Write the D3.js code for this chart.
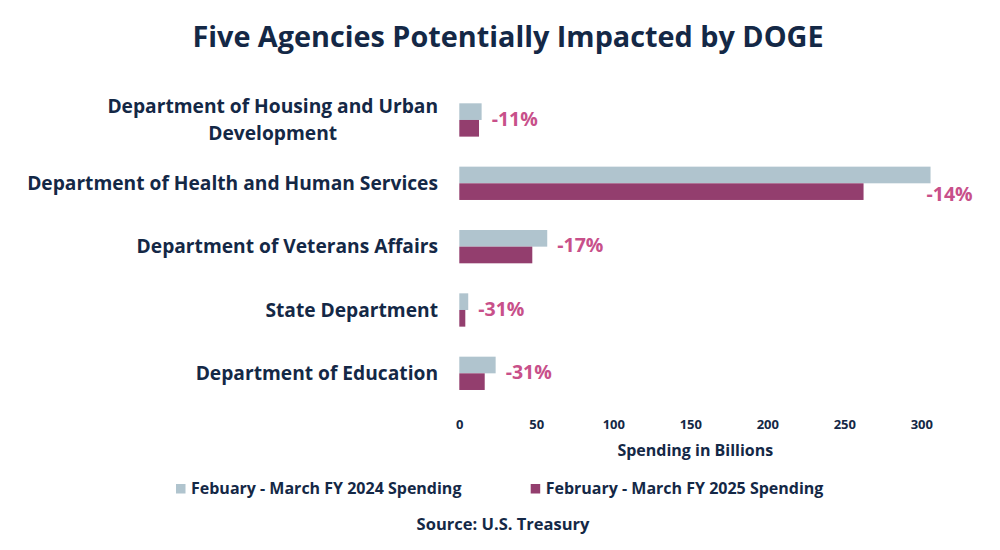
<!DOCTYPE html>
<html>
<head>
<meta charset="utf-8">
<script src="https://cdn.jsdelivr.net/npm/d3@7"></script>
<style>
  body { margin: 0; background: #fff; }
  svg text { font-family: "Open Sans", "Lato", sans-serif; font-weight: 700; }
</style>
</head>
<body>
<div id="chartContainer"></div>
<script>
const width = 1000;
const height = 550;

const navy = "#142846";
const grayBar = "#b0c4ce";
const purpleBar = "#933e6e";
const pink = "#c8508a";

const categories = [
    "Department of Housing and Urban\nDevelopment",
    "Department of Health and Human Services",
    "Department of Veterans Affairs",
    "State Department",
    "Department of Education"
];
const spending2024 = [14.5, 306, 57.1, 5.8, 23.6];
const spending2025 = [12.8, 262.5, 47.4, 3.9, 16.5];
const changeLabels = ["-11%", "-14%", "-17%", "-31%", "-31%"];
const xTicks = [0, 50, 100, 150, 200, 250, 300];
const seriesNames = ["Febuary - March FY 2024 Spending", "February - March FY 2025 Spending"];

var svg = d3.select("#chartContainer").append("svg")
    .attr("width", width).attr("height", height);

// Title
svg.append("text")
    .attr("x", 508).attr("y", 47)
    .attr("text-anchor", "middle")
    .style("font-size", "28.8px")
    .style("fill", navy)
    .text("Five Agencies Potentially Impacted by DOGE");

var xScale = d3.scaleLinear().domain([0, 300]).range([459.3, 921.3]);
var yScale = d3.scaleBand().domain(categories).range([88.3, 405]).paddingInner(0.474).paddingOuter(0.237);
var barH = yScale.bandwidth() / 2;

// Bars
var rows = categories.map((c, i) => ({ cat: c, a: spending2024[i], b: spending2025[i], label: changeLabels[i] }));

svg.append("g").selectAll("rect")
    .data(rows).enter().append("rect")
    .attr("x", xScale(0))
    .attr("y", d => yScale(d.cat))
    .attr("width", d => xScale(d.a) - xScale(0))
    .attr("height", barH)
    .style("fill", grayBar);

svg.append("g").selectAll("rect")
    .data(rows).enter().append("rect")
    .attr("x", xScale(0))
    .attr("y", d => yScale(d.cat) + barH)
    .attr("width", d => xScale(d.b) - xScale(0))
    .attr("height", barH)
    .style("fill", purpleBar);

// Percent change labels; the long bar gets its label tucked under the end
var tooLong = d => xScale(d.a) + 60 > width - 20;
svg.append("g").selectAll("text")
    .data(rows).enter().append("text")
    .attr("x", d => tooLong(d) ? xScale(d.a) - 4 : xScale(d.a) + 10)
    .attr("y", d => tooLong(d) ? yScale(d.cat) + barH * 1.5 + 3 : yScale(d.cat) + barH - 1)
    .attr("dy", "0.35em")
    .style("font-size", "19.5px")
    .style("fill", pink)
    .text(d => d.label);

// Category labels (centered lines, block right-aligned)
var catG = svg.append("g");
rows.forEach(function (d) {
    var lines = d.cat.split("\n");
    var cy = yScale(d.cat) + barH;
    var lineH = 26.6;
    var t = catG.append("text")
        .style("font-size", "19.2px")
        .style("fill", navy)
        .attr("text-anchor", "middle");
    lines.forEach(function (ln, j) {
        t.append("tspan").attr("x", 0)
            .attr("y", cy + (j - (lines.length - 1) / 2) * lineH)
            .attr("dy", "0.35em").text(ln);
    });
    var w = t.node().getBBox().width;
    t.selectAll("tspan").attr("x", 438 - w / 2);
});

// Bottom axis
var axis = svg.append("g")
    .attr("transform", "translate(0," + yScale.range()[1] + ")")
    .call(d3.axisBottom(xScale).tickValues(xTicks).tickSize(0).tickPadding(15));
axis.select(".domain").remove();
axis.selectAll("text")
    .style("font-family", "'Open Sans', sans-serif")
    .style("font-weight", 700)
    .style("font-size", "13px")
    .style("fill", navy);

svg.append("text")
    .attr("x", (xScale.range()[0] + xScale.range()[1]) / 2 + 5)
    .attr("y", 450).attr("dy", "0.35em")
    .attr("text-anchor", "middle")
    .style("font-size", "16px")
    .style("fill", navy)
    .text("Spending in Billions");

// Legend
var legend = svg.append("g");
[[176, grayBar], [530.7, purpleBar]].forEach(function (p, i) {
    legend.append("rect")
        .attr("x", p[0]).attr("y", 484)
        .attr("width", 9.5).attr("height", 9.5)
        .style("fill", p[1]);
    legend.append("text")
        .attr("x", p[0] + 15).attr("y", 488.5).attr("dy", "0.35em")
        .style("font-size", "16px")
        .style("fill", navy)
        .text(seriesNames[i]);
});

svg.append("text")
    .attr("x", 503).attr("y", 524).attr("dy", "0.35em")
    .attr("text-anchor", "middle")
    .style("font-size", "16.5px")
    .style("fill", navy)
    .text("Source: U.S. Treasury");
</script>
</body>
</html>
